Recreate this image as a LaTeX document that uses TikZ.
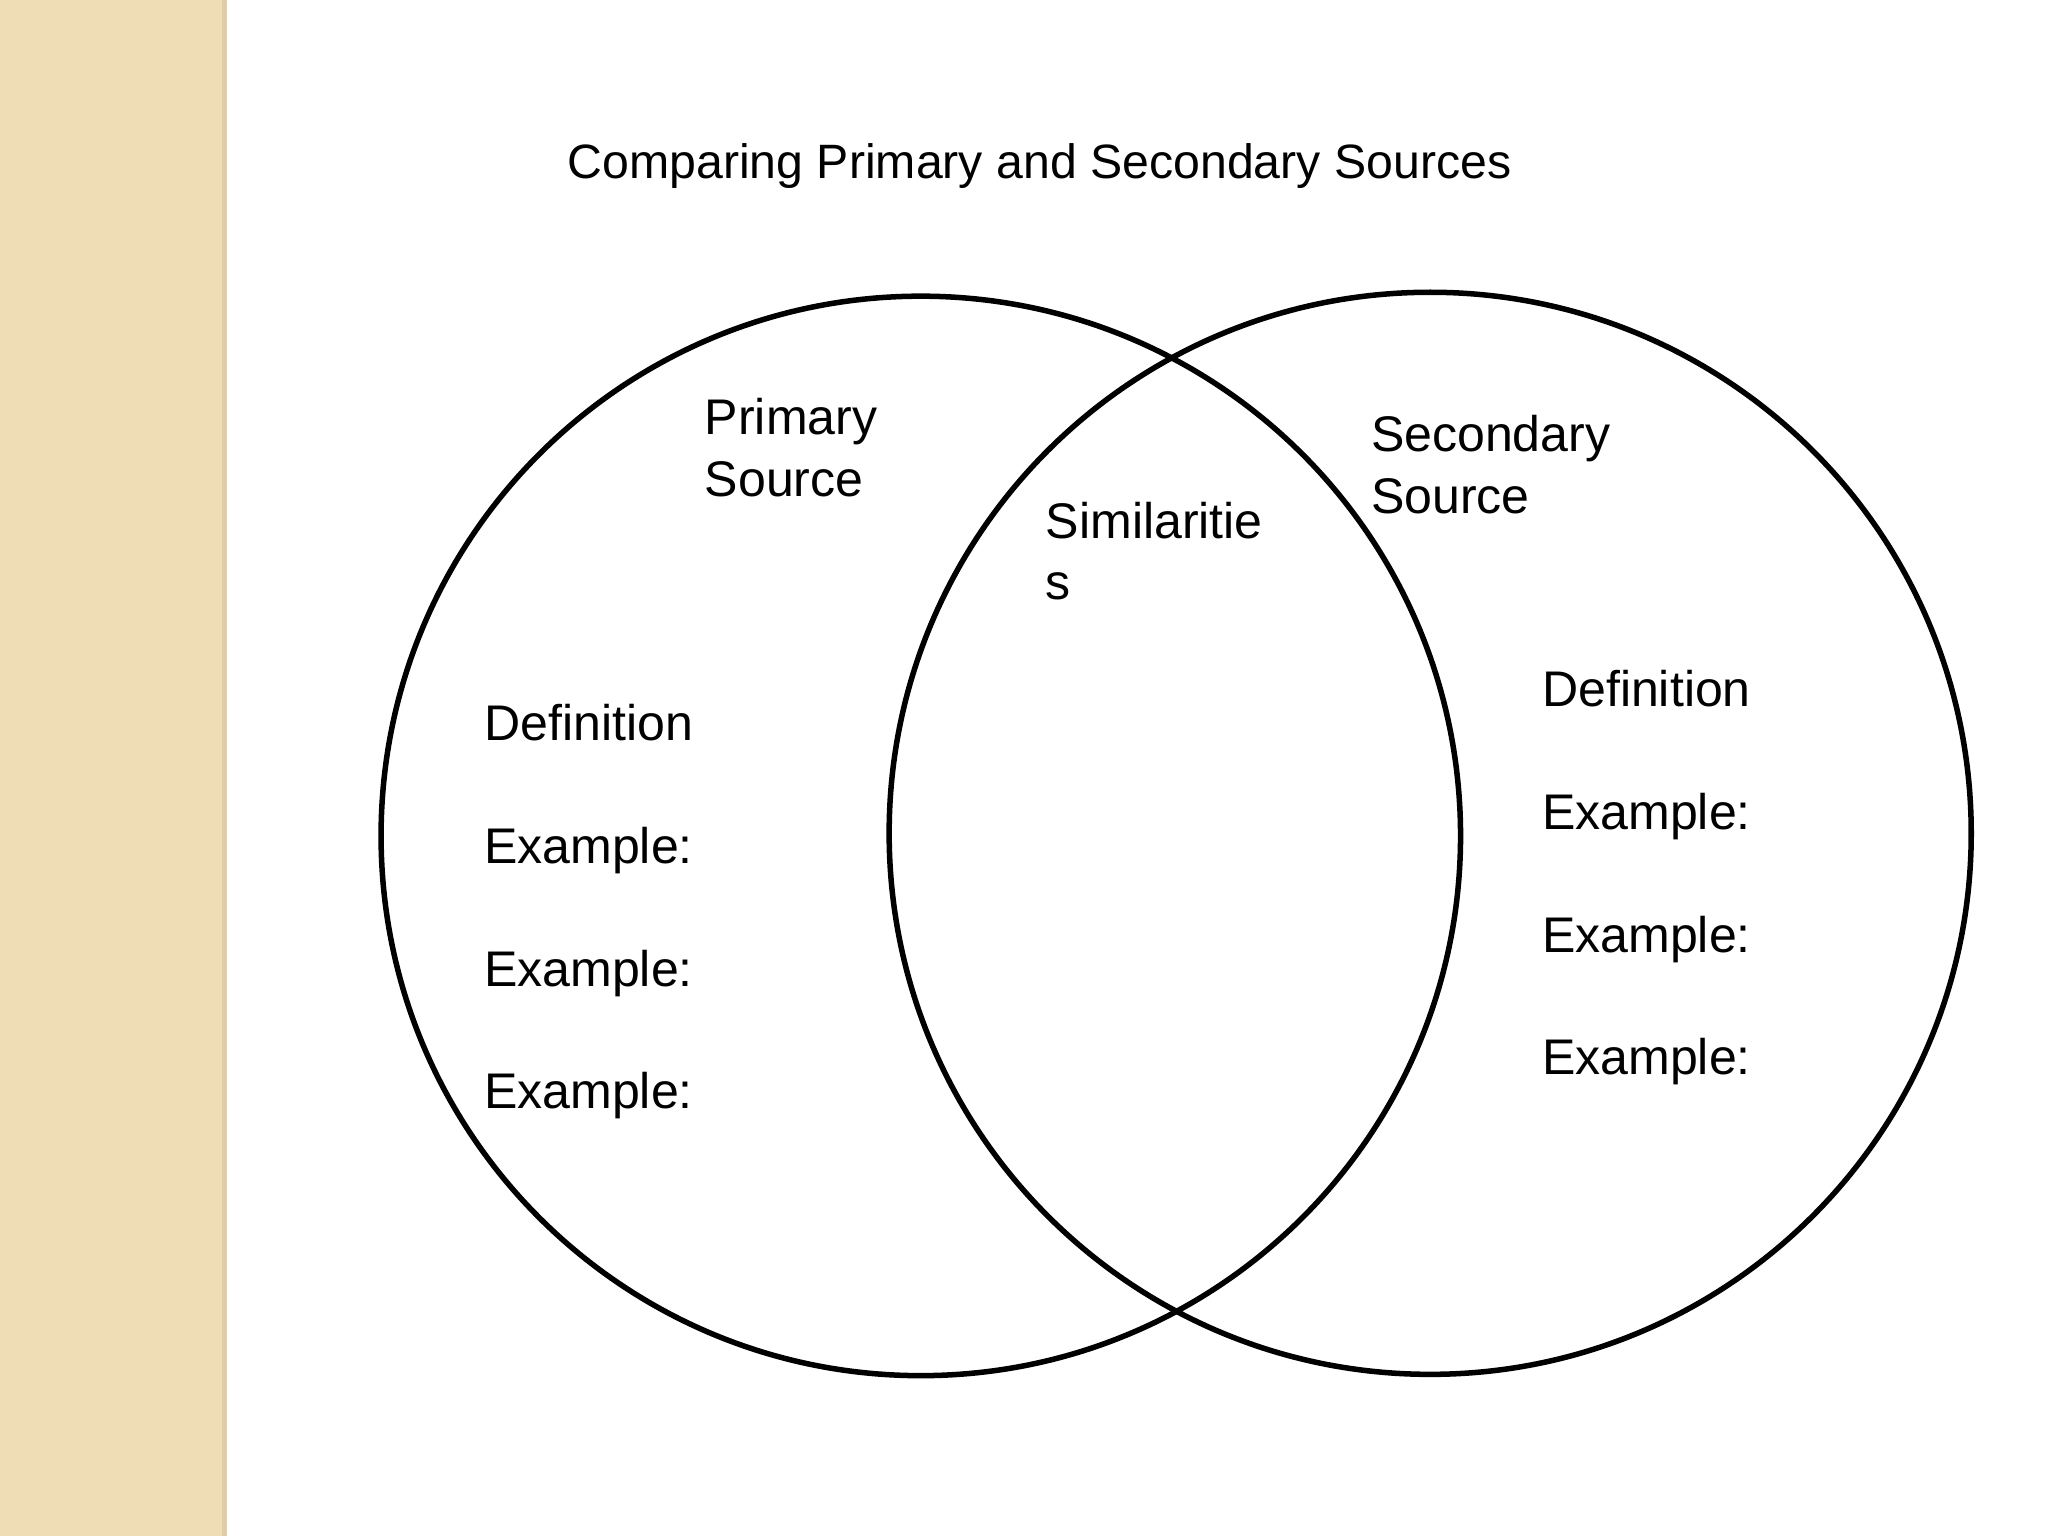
\documentclass[tikz,border=0pt]{standalone}
\usepackage{fontspec}
\setmainfont{Liberation Sans}
\definecolor{strip}{RGB}{238,221,181}
\definecolor{stripedge}{RGB}{222,205,165}
\begin{document}
\begin{tikzpicture}[x=0.01cm,y=-0.01cm,
  lbl/.style={anchor=base west,inner sep=0pt,font=\fontsize{10.9pt}{13pt}\selectfont},
  ring/.style={draw=black,line width=1.2pt}]
\useasboundingbox (0,0) rectangle (1568,1176);
\fill[white] (0,0) rectangle (1568,1176);
\fill[strip] (0,0) rectangle (172,1176);
\draw[stripedge,line width=1pt] (172,0) -- (172,1176);
\node[ring,circle,minimum size=8.26cm,inner sep=0pt] (L) at (705,640) {};
\node[ring,circle,minimum size=8.28cm,inner sep=0pt] (R) at (1095,638) {};
\node[lbl,font=\fontsize{10.5pt}{13pt}\selectfont] (title) at (434,137) {Comparing Primary and Secondary Sources};
\node[lbl] (p1) at (539,333) {Primary};
\node[lbl] (p2) at (539,380) {Source};
\node[lbl] (s1) at (800,412) {Similaritie};
\node[lbl] (s2) at (800,459) {s};
\node[lbl] (q1) at (1049,346) {Secondary};
\node[lbl] (q2) at (1049,393) {Source};
\node[lbl] (ld) at (370,567) {Definition};
\node[lbl] (le1) at (370,661) {Example:};
\node[lbl] (le2) at (370,755) {Example:};
\node[lbl] (le3) at (370,849) {Example:};
\node[lbl] (rd) at (1180,541) {Definition};
\node[lbl] (re1) at (1180,635) {Example:};
\node[lbl] (re2) at (1180,729) {Example:};
\node[lbl] (re3) at (1180,823) {Example:};
\end{tikzpicture}
\end{document}
